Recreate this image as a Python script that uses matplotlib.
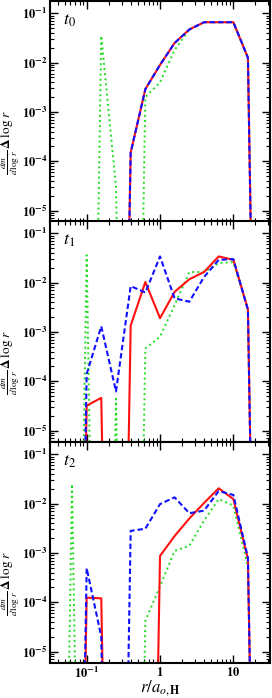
import matplotlib
matplotlib.use('Agg')
import matplotlib.pyplot as plt
from matplotlib.ticker import LogLocator, NullFormatter, FixedLocator, FixedFormatter

plt.rcParams['font.family'] = ['Liberation Serif', 'DejaVu Serif']
plt.rcParams['mathtext.fontset'] = 'stix'

# empty bins
t = 1e-20

# bin centres, r / a_o,H
r = [0.0251, 0.0398, 0.0631, 0.100, 0.158, 0.251, 0.398, 0.631,
     1.00, 1.58, 2.51, 3.98, 6.31, 10.0, 15.8, 25.1]

# panel t0
red0 = [t, t, t, t, t, t, 1.5e-4, 2.9e-3, 9e-3, 2.5e-2, 4.7e-2, 6.6e-2, 6.6e-2, 6.6e-2, 1.26e-2, t]
blue0 = [t, t, t, t, t, t, 1.5e-4, 2.9e-3, 9e-3, 2.5e-2, 4.7e-2, 6.6e-2, 6.6e-2, 6.6e-2, 1.26e-2, t]
green0 = [t, t, t, t, 3.5e-2, 3e-5, t, 2e-3, 4e-3, 1.8e-2, 4.7e-2, 6.6e-2, 6.6e-2, 6.6e-2, 1.26e-2, t]

# panel t1
red1 = [t, t, t, 3.2e-5, 4.6e-5, t, 1.35e-3, 1.03e-2, 1.9e-3, 6.5e-3, 1.17e-2, 1.64e-2, 3.4e-2, 2.9e-2, 2.9e-3, t]
blue1 = [t, t, t, 1.4e-4, 1.3e-3, 6.2e-5, 8.5e-3, 6.3e-3, 3.4e-2, 4.8e-3, 4.1e-3, 1.3e-2, 2.9e-2, 3.0e-2, 2.8e-3, t]
green1 = [t, t, t, 3.6e-2, t, 4.4e-5, t, 4.6e-4, 8e-4, 3.5e-3, 1.64e-2, 1.64e-2, 2.5e-2, 2.6e-2, 2.9e-3, t]

# panel t2
red2 = [t, t, t, 1.24e-4, 1.2e-4, t, t, t, 8.7e-4, 2.2e-3, 5e-3, 1.03e-2, 2.05e-2, 1.24e-2, 7.5e-4, t]
blue2 = [t, t, t, 4.9e-4, 2e-5, t, 2.8e-3, 3.1e-3, 9.8e-3, 1.34e-2, 6.4e-3, 7.2e-3, 1.8e-2, 1.5e-2, 8e-4, t]
green2 = [t, t, 2.5e-2, t, t, t, t, 4.2e-5, 2.1e-4, 1.1e-3, 1.4e-3, 4.5e-3, 1.24e-2, 9.1e-3, 5.3e-4, t]

panels = [('$t_0$', red0, blue0, green0),
          ('$t_1$', red1, blue1, green1),
          ('$t_2$', red2, blue2, green2)]

ytick_vals = [1e-5, 1e-4, 1e-3, 1e-2, 1e-1]
ytick_labels = ['$\\mathbf{10^{-5}}$', '$\\mathbf{10^{-4}}$', '$\\mathbf{10^{-3}}$',
                '$\\mathbf{10^{-2}}$', '$\\mathbf{10^{-1}}$']
xtick_vals = [0.1, 1, 10]
xtick_labels = ['$\\mathbf{10^{-1}}$', '$\\mathbf{1}$', '$\\mathbf{10}$']

fig = plt.figure(figsize=(2.72, 6.98), dpi=100)
W, H = 272.0, 698.0
left, right = 50 / W, 270 / W
tops = [1, 221, 442]
ph = 221

for i, (lab, red, blue, green) in enumerate(panels):
    bottom = (H - tops[i] - ph) / H
    ax = fig.add_axes([left, bottom, right - left, ph / H])
    ax.plot(r, green, color='#22dd22', ls=':', lw=1.4)
    ax.plot(r, red, color='#ff1010', ls='-', lw=1.5)
    ax.plot(r, blue, color='#1010ff', ls='--', lw=1.5, dashes=(2.6, 1.4))
    ax.set_xscale('log')
    ax.set_yscale('log')
    ax.set_xlim(0.0316, 31.6)
    ax.set_ylim(5.85e-6, 0.178)

    ax.yaxis.set_major_locator(FixedLocator(ytick_vals))
    ax.yaxis.set_major_formatter(FixedFormatter(ytick_labels))
    ax.yaxis.set_minor_locator(LogLocator(base=10, subs=range(2, 10), numticks=20))
    ax.yaxis.set_minor_formatter(NullFormatter())
    ax.xaxis.set_major_locator(FixedLocator(xtick_vals))
    ax.xaxis.set_minor_locator(LogLocator(base=10, subs=range(2, 10), numticks=20))
    ax.xaxis.set_minor_formatter(NullFormatter())
    if i == 2:
        ax.xaxis.set_major_formatter(FixedFormatter(xtick_labels))
        ax.set_xlabel('$r/a_{o,\\mathbf{H}}$', fontsize=12, labelpad=-2)
    else:
        ax.xaxis.set_major_formatter(NullFormatter())

    ax.tick_params(which='both', direction='in', top=True, right=True, labelsize=9, pad=2)
    ax.tick_params(which='major', length=6, width=1)
    ax.tick_params(which='minor', length=3, width=0.8)
    for s in ax.spines.values():
        s.set_linewidth(1.5)

    ax.set_ylabel('$\\frac{dm}{d\\,\\log\\, r}\\,\\mathbf{\\Delta}\\,\\log\\, r$', fontsize=9.5)
    ax.yaxis.set_label_coords(-0.125, 0.36)
    ax.text(0.06, 0.95, lab, transform=ax.transAxes, fontsize=13, ha='left', va='top')

fig.savefig('out.png', dpi=100)
